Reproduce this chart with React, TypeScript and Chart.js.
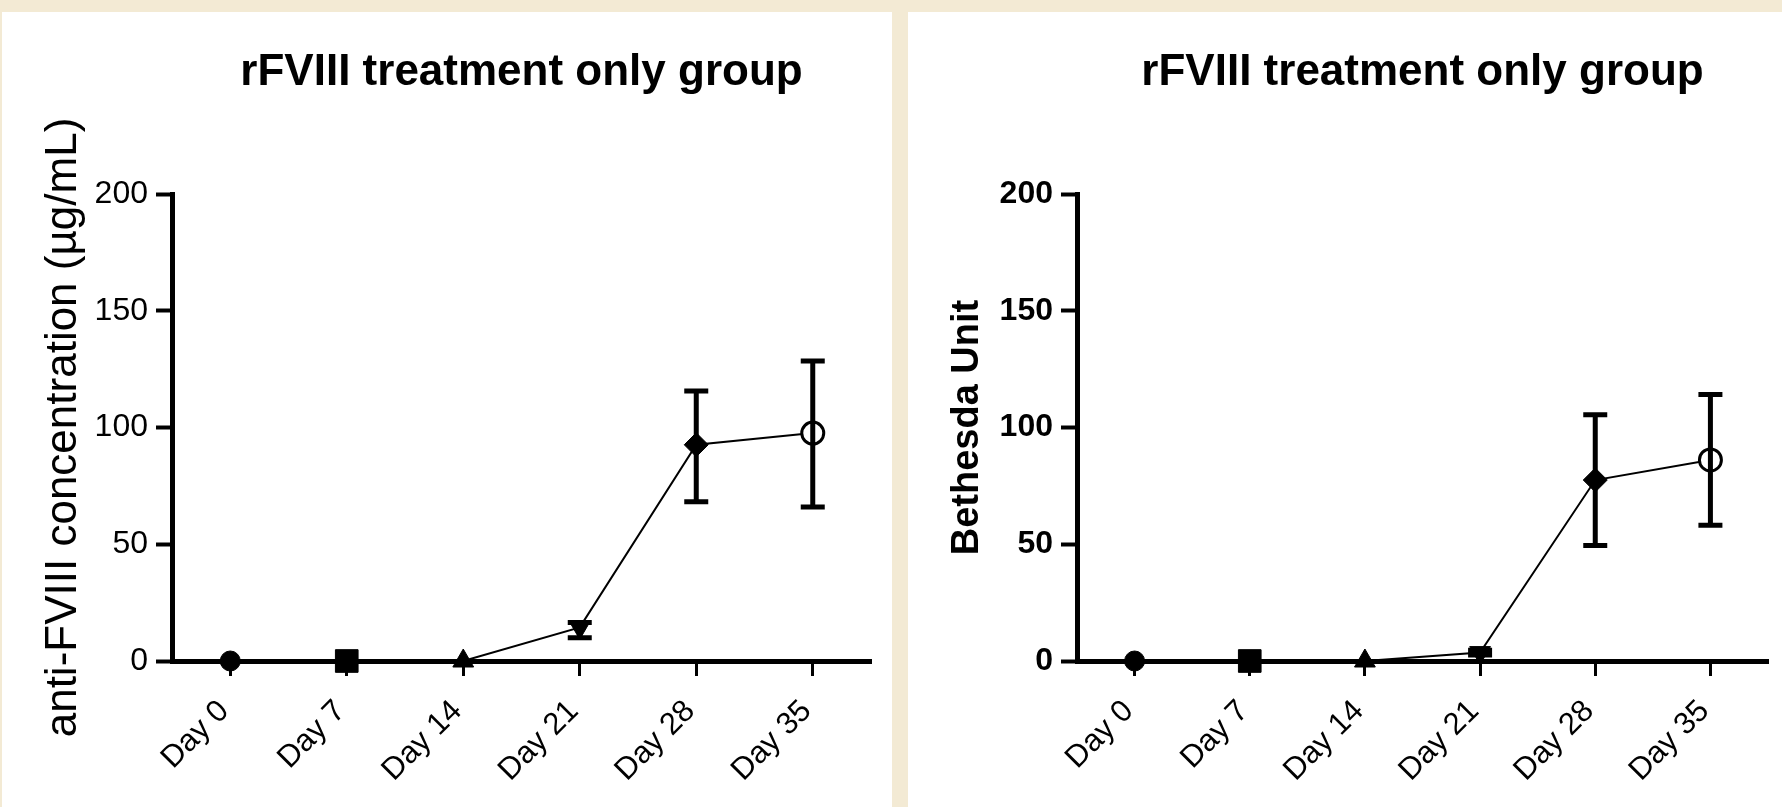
import React, { useEffect, useRef } from "react";
import { Chart, registerables } from "chart.js";

Chart.register(...registerables);

// ---- data ----
const days = ["Day 0", "Day 7", "Day 14", "Day 21", "Day 28", "Day 35"];
const yTickValues = [0, 50, 100, 150, 200];
const chartTitle = "rFVIII treatment only group";

const antiMean = [0, 0, 0, 14.4, 92.6, 97.6];
const antiLow = [0, 0, 0, 10.0, 68.2, 66.0];
const antiHigh = [0, 0, 0, 16.5, 115.6, 128.5];

const buMean = [0, 0, 0, 3.6, 77.5, 86.1];
const buLow = [0, 0, 0, 2.6, 49.5, 58.1];
const buHigh = [0, 0, 0, 4.6, 105.5, 114.1];

// ---- styles ----
const FONT = "'Liberation Sans', Arial, Helvetica, sans-serif";
const BEIGE = "#f3ead4";
const pointStyles = ["circle", "rect", "triangle", "triangle", "rectRot", "circle"];
const pointRotations = [0, 0, 0, 180, 0, 0];
const pointFills = ["#000", "#000", "#000", "#000", "#000", "#fff"];
const pointBorders = [1, 1, 1, 1, 1, 3];
const pointSizes = [10, 16, 12, 12, 12, 11];

const errorBarPlugin = {
  id: "errorBars",
  afterDatasetsDraw(chart: any, _args: any, opts: any) {
    const { ctx } = chart;
    const xs = chart.scales.x;
    const ys = chart.scales.y;
    const low: number[] = opts.low || [];
    const high: number[] = opts.high || [];
    const cap = 12;
    ctx.save();
    ctx.strokeStyle = "#000";
    ctx.lineWidth = 5;
    ctx.lineCap = "butt";
    for (let i = 0; i < low.length; i++) {
      if (!(high[i] - low[i] > 0)) continue;
      const px = xs.getPixelForValue(i);
      const yl = ys.getPixelForValue(low[i]);
      const yh = ys.getPixelForValue(high[i]);
      ctx.beginPath();
      ctx.moveTo(px, yh);
      ctx.lineTo(px, yl);
      ctx.moveTo(px - cap, yh);
      ctx.lineTo(px + cap, yh);
      ctx.moveTo(px - cap, yl);
      ctx.lineTo(px + cap, yl);
      ctx.stroke();
    }
    ctx.restore();
  },
};

type PanelProps = {
  width: number;
  height: number;
  mean: number[];
  low: number[];
  high: number[];
  yLabel: string;
  yLabelSize: number;
  yLabelWeight: string;
  yLabelPad: number;
  tickWeight: string;
  yAxisWidth: number;
  padRight: number;
};

function Panel(p: PanelProps) {
  const ref = useRef<HTMLCanvasElement | null>(null);
  useEffect(() => {
    if (!ref.current) return;
    const chart = new Chart(ref.current, {
      type: "line",
      data: {
        labels: days,
        datasets: [
          {
            data: p.mean,
            borderColor: "#000",
            borderWidth: 2,
            tension: 0,
            fill: false,
            clip: false as any,
            pointStyle: pointStyles as any,
            pointRotation: pointRotations,
            pointBackgroundColor: pointFills,
            pointBorderColor: "#000",
            pointBorderWidth: pointBorders,
            pointRadius: pointSizes,
          },
        ],
      },
      plugins: [errorBarPlugin],
      options: {
        responsive: false,
        animation: false,
        devicePixelRatio: 1,
        layout: { padding: { left: 0, right: p.padRight, top: 0, bottom: 0 } },
        plugins: {
          legend: { display: false },
          tooltip: { enabled: false },
          title: {
            display: true,
            text: chartTitle,
            color: "#000",
            fullSize: false,
            font: { family: FONT, size: 44, weight: "bold", lineHeight: 1.2 },
            padding: { top: 34.7, bottom: 94.5 },
          },
          errorBars: { low: p.low, high: p.high },
        } as any,
        scales: {
          x: {
            type: "category",
            offset: true,
            border: { display: true, color: "#000", width: 5 },
            grid: {
              display: true,
              drawOnChartArea: false,
              drawTicks: true,
              tickLength: 15,
              tickWidth: 3,
              tickColor: "#000",
              color: "#000",
              offset: false,
            },
            ticks: {
              color: "#000",
              font: { family: FONT, size: 31 },
              maxRotation: 45,
              minRotation: 45,
              padding: 17,
              labelOffset: -6,
              autoSkip: false,
            },
            afterFit: (s: any) => {
              s.height = p.height - 649;
            },
          },
          y: {
            type: "linear",
            min: 0,
            max: 200,
            afterBuildTicks: (s: any) => {
              s.ticks = yTickValues.map((v) => ({ value: v }));
            },
            border: { display: true, color: "#000", width: 5 },
            grid: {
              display: true,
              drawOnChartArea: false,
              drawTicks: true,
              tickLength: 16,
              tickWidth: 4,
              tickColor: "#000",
              color: "#000",
            },
            ticks: {
              color: "#000",
              font: { family: FONT, size: 32, weight: p.tickWeight as any },
              padding: 8,
            },
            title: {
              display: true,
              text: p.yLabel,
              color: "#000",
              font: { family: FONT, size: p.yLabelSize, weight: p.yLabelWeight as any, lineHeight: 1.2 },
              padding: { top: p.yLabelPad, bottom: 0 },
            },
            afterFit: (s: any) => {
              s.width = p.yAxisWidth;
            },
          },
        },
      } as any,
    });
    return () => chart.destroy();
  }, []);
  return <canvas ref={ref} width={p.width} height={p.height} style={{ display: "block" }} />;
}

export default function App() {
  return (
    <div
      style={{
        position: "fixed",
        left: 0,
        top: 0,
        width: 1782,
        height: 807,
        background: BEIGE,
        overflow: "hidden",
      }}
    >
      <div style={{ position: "absolute", left: 2, top: 12, width: 890, height: 795, background: "#fff" }}>
        <Panel
          width={890}
          height={795}
          mean={antiMean}
          low={antiLow}
          high={antiHigh}
          yLabel="anti-FVIII concentration (µg/mL)"
          yLabelSize={44}
          yLabelWeight="normal"
          yLabelPad={35.6}
          tickWeight="normal"
          yAxisWidth={170}
          padRight={21}
        />
      </div>
      <div style={{ position: "absolute", left: 908, top: 12, width: 874, height: 795, background: "#fff" }}>
        <Panel
          width={874}
          height={795}
          mean={buMean}
          low={buLow}
          high={buHigh}
          yLabel="Bethesda Unit"
          yLabelSize={38}
          yLabelWeight="bold"
          yLabelPad={37}
          tickWeight="bold"
          yAxisWidth={169}
          padRight={7}
        />
      </div>
    </div>
  );
}
